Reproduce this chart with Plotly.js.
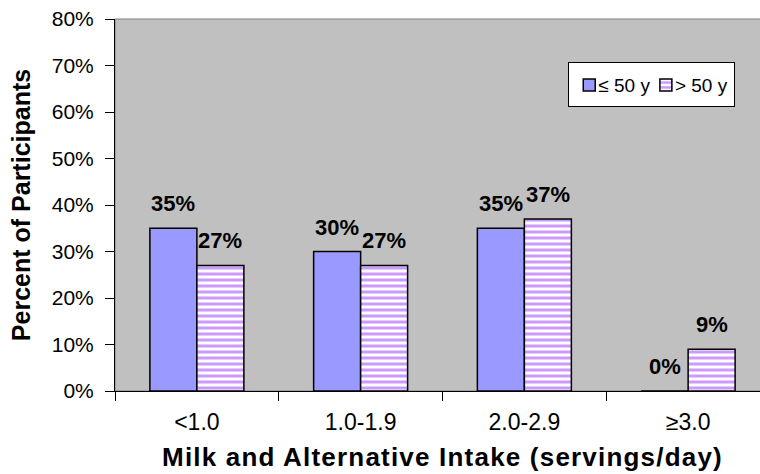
<!DOCTYPE html>
<html><head><meta charset="utf-8">
<script src="https://cdn.plot.ly/plotly-3.0.1.min.js"></script>
<style>html,body{margin:0;padding:0;overflow:hidden;background:#fff}#chart{width:775px;height:474px}
.g-xtitle text{letter-spacing:1.2px}</style>
</head><body><div id="chart"></div>
<script>
const categories = ['<1.0', '1.0-1.9', '2.0-2.9', '≥3.0'];
const seriesNames = ['≤ 50 y', '> 50 y'];
const under50 = [35, 30, 35, 0];
const over50 = [27, 27, 37, 9];
const yTickVals = [0, 10, 20, 30, 40, 50, 60, 70, 80];
const yTickText = ['0%', '10%', '20%', '30%', '40%', '50%', '60%', '70%', '80%'];
const xTitle = 'Milk and Alternative Intake (servings/day)';
const yTitle = 'Percent of Participants';

const FONT = 'Liberation Sans, Arial, sans-serif';
const bargap = 0.426;
const barW = (1 - bargap) / 2;

const traces = [
  {
    type: 'bar', name: seriesNames[0], x: categories, y: under50,
    marker: {color: '#9999FF', line: {color: '#000', width: 1.5}},
    hoverinfo: 'skip'
  },
  {
    type: 'bar', name: seriesNames[1], x: categories, y: over50,
    marker: {color: '#FFFFFF', line: {color: '#000', width: 1.5},
      pattern: {shape: '-', fgcolor: '#CC99FF', bgcolor: '#FFFFFF', fgopacity: 1, size: 6, solidity: 0.5, fillmode: 'replace'}},
    hoverinfo: 'skip'
  }
];

const annotations = [];
[under50, over50].forEach((vals, s) => {
  vals.forEach((v, i) => {
    annotations.push({
      x: i + (s === 0 ? -barW / 2 : barW / 2), y: v, xref: 'x', yref: 'y',
      text: '<b>' + v + '%</b>', showarrow: false,
      yanchor: 'bottom', yshift: 10,
      font: {family: FONT, size: 22, color: '#000'}
    });
  });
});

const layout = {
  width: 775, height: 474,
  margin: {l: 115, r: 5, t: 19, b: 83},
  paper_bgcolor: '#FFFFFF', plot_bgcolor: '#C0C0C0',
  barmode: 'group', bargap: bargap, bargroupgap: 0,
  showlegend: true,
  legend: {
    x: 0.692, y: 0.884, xanchor: 'left', yanchor: 'top',
    orientation: 'h', bgcolor: '#FFFFFF', bordercolor: '#000', borderwidth: 1,
    font: {family: FONT, size: 19, color: '#000'}
  },
  xaxis: {
    type: 'category', range: [-0.5, 3.5],
    showline: true, linecolor: '#000', linewidth: 1,
    ticks: 'outside', tickson: 'boundaries', ticklen: 9, tickcolor: '#000',
    ticklabelstandoff: 10,
    showgrid: false, zeroline: false,
    tickfont: {family: FONT, size: 23, color: '#000'},
    title: {text: '<b>' + xTitle + '</b>', font: {family: FONT, size: 26, color: '#000'}, standoff: 14}
  },
  yaxis: {
    range: [0, 80], tickvals: yTickVals, ticktext: yTickText,
    showline: true, linecolor: '#000', linewidth: 1,
    ticks: 'outside', ticklen: 9, tickcolor: '#000',
    ticklabelstandoff: 7,
    showgrid: false, zeroline: false,
    tickfont: {family: FONT, size: 21, color: '#000'},
    title: {text: '<b>' + yTitle + '</b>', font: {family: FONT, size: 25, color: '#000'}, standoff: 14}
  },
  shapes: [{type: 'rect', xref: 'paper', yref: 'paper', x0: 0, x1: 1, y0: 0, y1: 1,
    line: {color: '#808080', width: 1}, layer: 'below'}],
  annotations: annotations
};

function tightenLegend(gd) {
  try {
    const legend = gd.querySelector('.legend');
    if (!legend) return;
    const groups = legend.querySelectorAll('.traces');
    const re = /translate\(\s*([-\d.]+)[ ,]+([-\d.]+)\s*\)/;
    let end = null;
    groups.forEach((g, idx) => {
      const t = g.querySelector('.legendtext');
      const m = re.exec(g.getAttribute('transform') || '');
      if (!t || !m) return;
      let x = parseFloat(m[1]);
      const y = parseFloat(m[2]) + 3;
      t.setAttribute('x', 29);
      if (end !== null) x = end + 10 - 14;
      g.setAttribute('transform', 'translate(' + x + ',' + y + ')');
      end = x + 29 + t.getComputedTextLength();
    });
    const bg = legend.querySelector('.bg');
    if (bg && end !== null) {
      bg.setAttribute('width', end + 7);
      bg.setAttribute('height', 44);
    }
  } catch (e) {}
}

Plotly.newPlot('chart', traces, layout, {displayModeBar: false, staticPlot: true})
  .then(gd => tightenLegend(gd));
</script>
</body></html>
